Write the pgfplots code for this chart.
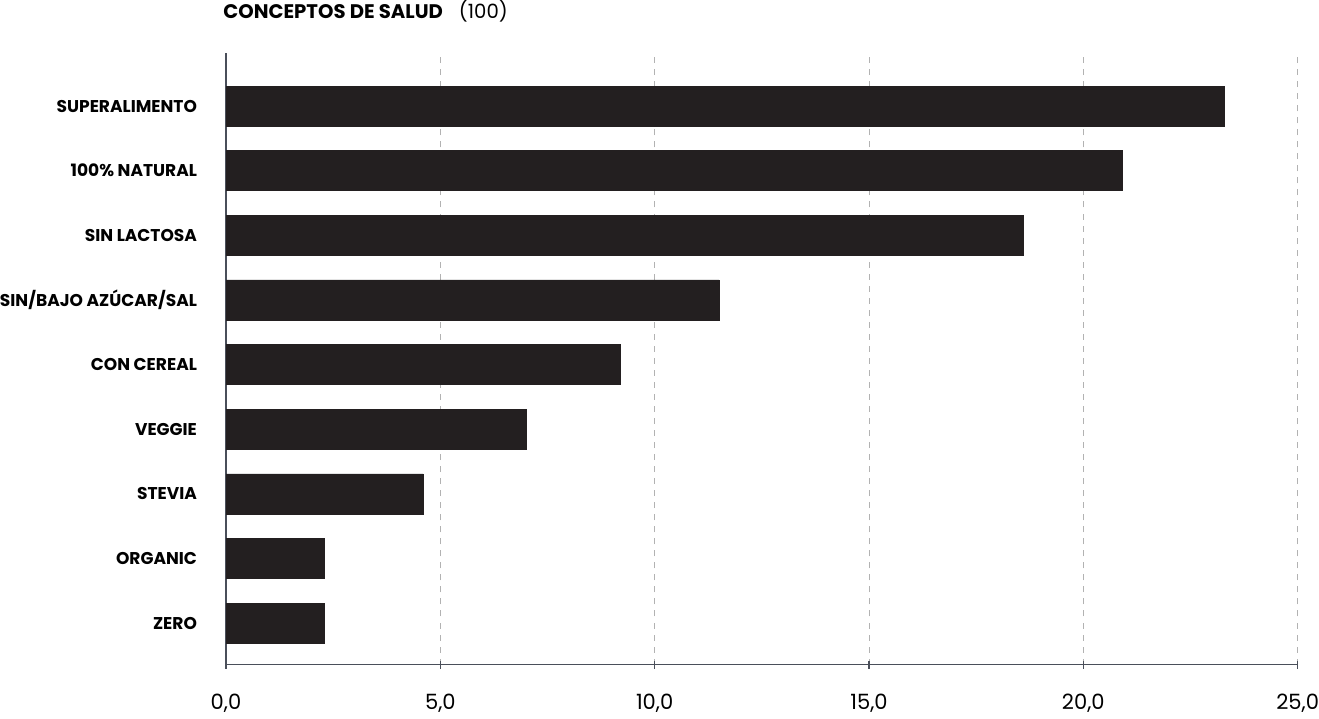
\documentclass[border=0pt]{standalone}
\usepackage{pgfplots}
\pgfplotsset{compat=1.18}
\usepackage{fontspec}
\setmainfont{Poppins}
\definecolor{barc}{HTML}{231F20}
\definecolor{axc}{HTML}{4A4F5A}
\begin{document}
\begin{tikzpicture}
\begin{axis}[
  scale only axis,
  width=534.5pt, height=305pt,
  xbar, bar width=0.62,
  xmin=0, xmax=25,
  ymin=-0.64, ymax=8.82,
  axis x line=bottom, axis y line=left,
  axis line style={axc, line width=0.6pt, -},
  xtick={0,5,10,15,20,25},
  xtick style={axc, line width=0.6pt},
  major tick length=4pt,
  xtick pos=bottom,
  xticklabel style={font=\fontsize{10.5}{12}\selectfont, text=black, yshift=-9pt, inner xsep=0pt},
  /pgf/number format/.cd, fixed, fixed zerofill, precision=1, use comma, assume math mode=true, /pgfplots/.cd,
  ytick={0,1,2,3,4,5,6,7,8},
  yticklabels={ZERO,ORGANIC,STEVIA,VEGGIE,CON CEREAL,SIN/BAJO AZÚCAR/SAL,SIN LACTOSA,100\% NATURAL,SUPERALIMENTO},
  ytick style={draw=none},
  yticklabel style={font=\bfseries\fontsize{8.5}{10}\selectfont, text=black, inner xsep=0pt, xshift=-12.3pt},
  xmajorgrids, ymajorgrids=false,
  major x grid style={gray!60, dashed, line width=0.4pt},
  clip=false,
]
\addplot[fill=barc, draw=barc] coordinates {
  (2.3,0) (2.3,1) (4.6,2) (7.0,3) (9.2,4) (11.5,5) (18.6,6) (20.9,7) (23.3,8)
};
\node[anchor=west, font=\fontsize{9.8}{11}\selectfont, inner sep=0pt] at ([xshift=-1.5pt,yshift=21pt]rel axis cs:0,1) {\textbf{CONCEPTOS DE SALUD}\hspace{8pt}(100)};
\end{axis}
\end{tikzpicture}
\end{document}
